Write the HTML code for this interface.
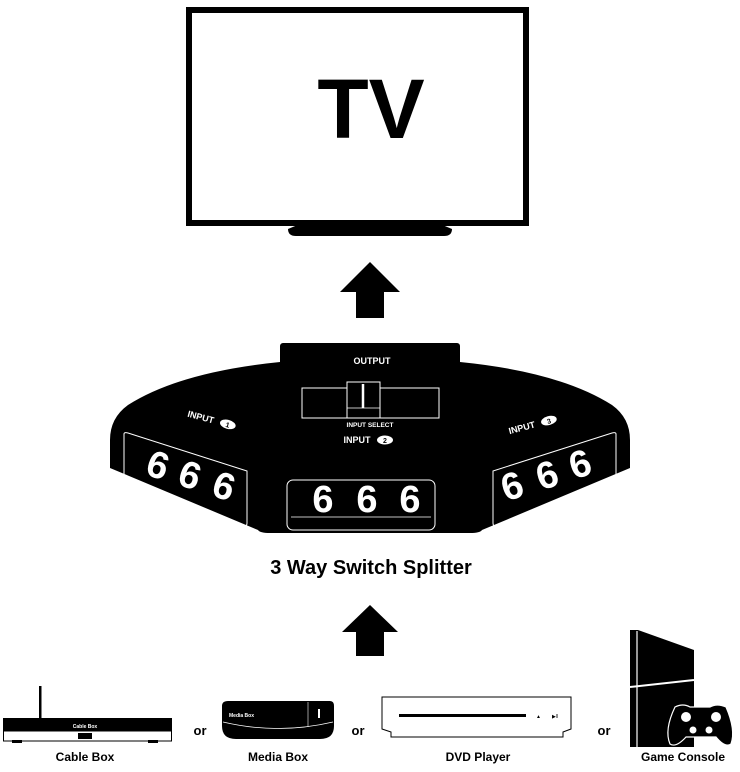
<!DOCTYPE html>
<html><head><style>body{margin:0;background:#fff}svg{display:block}</style></head><body>
<svg width="740" height="772" viewBox="0 0 740 772" xmlns="http://www.w3.org/2000/svg" font-family="Liberation Sans, sans-serif">
<!-- TV -->
<rect x="189" y="10" width="337" height="213" fill="#fff" stroke="#000" stroke-width="6"/>
<path d="M300 224 H440 L452 229 Q452 236 444 236 H296 Q288 236 288 229 Z" fill="#000"/>
<text x="371" y="138" font-size="84" font-weight="bold" text-anchor="middle">TV</text>
<!-- arrow 1 -->
<path d="M370 262 L400 292 L384 292 L384 318 L356 318 L356 292 L340 292 Z" fill="#000"/>
<!-- splitter -->
<rect x="280" y="343" width="180" height="30" rx="3" fill="#000"/>
<path d="M280 362 L460 362 Q560 372 612 405 Q630 418 630 440 L630 468 L482 530 Q480 533 470 533 L270 533 Q260 533 258 530 L110 468 L110 440 Q110 418 128 405 Q180 372 280 362 Z" fill="#000"/>
<text x="372" y="364" font-size="9" font-weight="bold" fill="#fff" text-anchor="middle">OUTPUT</text>
<rect x="302" y="388" width="137" height="30" fill="none" stroke="#fff" stroke-width="1"/>
<rect x="347" y="382" width="33" height="36" fill="#000" stroke="#fff" stroke-width="1"/>
<line x1="363" y1="384" x2="363" y2="408" stroke="#fff" stroke-width="2.5"/>
<line x1="347" y1="408" x2="380" y2="408" stroke="#fff" stroke-width="0.8"/>
<text x="370" y="427" font-size="6.5" font-weight="bold" fill="#fff" text-anchor="middle">INPUT SELECT</text>
<text x="357" y="443" font-size="9" font-weight="bold" fill="#fff" text-anchor="middle">INPUT</text>
<ellipse cx="385" cy="440" rx="8" ry="4.5" fill="#fff"/><text x="385" y="443" font-size="7" font-weight="bold" text-anchor="middle">2</text>
<g transform="rotate(15 200 420)"><text x="200" y="420" font-size="9" font-weight="bold" fill="#fff" text-anchor="middle">INPUT</text><ellipse cx="228" cy="417" rx="8" ry="4.5" fill="#fff"/><text x="228" y="420" font-size="7" font-weight="bold" text-anchor="middle">1</text></g>
<g transform="rotate(-15 525 428)"><text x="522" y="430" font-size="9" font-weight="bold" fill="#fff" text-anchor="middle">INPUT</text><ellipse cx="550" cy="427" rx="8" ry="4.5" fill="#fff"/><text x="550" y="430" font-size="7" font-weight="bold" text-anchor="middle">3</text></g>
<!-- panels -->
<path d="M124 434 Q124 432 128 433 L247 471 L247 523 Q247 527 243 526 L128 480 Q124 478 124 474 Z" fill="none" stroke="#fff" stroke-width="1"/>
<path d="M616 434 Q616 432 612 433 L493 471 L493 523 Q493 527 497 526 L612 480 Q616 478 616 474 Z" fill="none" stroke="#fff" stroke-width="1"/>
<rect x="287" y="480" width="148" height="50" rx="6" fill="none" stroke="#fff" stroke-width="1"/>
<line x1="291" y1="517" x2="431" y2="517" stroke="#fff" stroke-width="0.8"/>
<g font-size="38" font-weight="bold" fill="#fff" text-anchor="middle">
<text x="323" y="512">6</text><text x="367" y="512">6</text><text x="410" y="512">6</text>
<text x="158" y="478" transform="rotate(18 158 465)">6</text><text x="190" y="488" transform="rotate(18 190 475)">6</text><text x="224" y="499" transform="rotate(18 224 486)">6</text>
<text x="512" y="499" transform="rotate(-18 512 486)">6</text><text x="547" y="488" transform="rotate(-18 547 475)">6</text><text x="580" y="477" transform="rotate(-18 580 464)">6</text>
</g>
<text x="371" y="574" font-size="20" font-weight="bold" text-anchor="middle">3 Way Switch Splitter</text>
<!-- arrow 2 -->
<path d="M370 605 L398 632 L384 632 L384 656 L356 656 L356 632 L342 632 Z" fill="#000"/>
<!-- cable box -->
<rect x="39" y="686" width="2.5" height="34" fill="#000"/>
<rect x="3" y="718" width="169" height="13" fill="#000"/>
<rect x="3.5" y="731" width="168" height="10" fill="#fff" stroke="#000"/>
<rect x="78" y="733" width="14" height="6" fill="#000"/>
<rect x="12" y="740" width="10" height="3" fill="#000"/><rect x="148" y="740" width="10" height="3" fill="#000"/>
<text x="85" y="728" font-size="5" font-weight="bold" fill="#fff" text-anchor="middle">Cable Box</text>
<text x="85" y="761" font-size="12" font-weight="bold" text-anchor="middle">Cable Box</text>
<text x="200" y="735" font-size="13" font-weight="bold" text-anchor="middle">or</text>
<!-- media box -->
<path d="M228 701 H330 Q334 701 334 706 V726 Q334 739 320 739 H236 Q222 739 222 726 V706 Q222 701 228 701 Z" fill="#000"/>
<path d="M223 722 Q278 735 333 722" fill="none" stroke="#fff" stroke-width="0.8"/>
<line x1="308" y1="702" x2="308" y2="727" stroke="#fff" stroke-width="0.6"/>
<rect x="318" y="709" width="2" height="9" fill="#fff"/>
<text x="229" y="717" font-size="5" font-weight="bold" fill="#fff">Media Box</text>
<text x="278" y="761" font-size="12" font-weight="bold" text-anchor="middle">Media Box</text>
<text x="358" y="735" font-size="13" font-weight="bold" text-anchor="middle">or</text>
<!-- dvd -->
<path d="M382 697 H571 V729 L563 732 V737 H391 V732 L382 729 Z" fill="#fff" stroke="#000" stroke-width="1"/>
<rect x="399" y="714" width="127" height="3" fill="#000"/>
<text x="536" y="718" font-size="5">▲</text><text x="552" y="718" font-size="5">▶ll</text>
<text x="478" y="761" font-size="12" font-weight="bold" text-anchor="middle">DVD Player</text>
<text x="604" y="735" font-size="13" font-weight="bold" text-anchor="middle">or</text>
<!-- console -->
<path d="M630 630 H638 L694 650 V747 H630 Z" fill="#000"/>
<line x1="637" y1="631" x2="637" y2="747" stroke="#fff" stroke-width="1.2"/>
<path d="M630 687 L694 680" stroke="#fff" stroke-width="2"/>
<path d="M675 707 Q683 703 690 707 H710 Q717 703 726 707 Q736 730 731 744 Q725 748 716 737 H686 Q676 748 670 744 Q664 730 675 707 Z" fill="#000" stroke="#fff" stroke-width="1.2"/>
<circle cx="686" cy="717" r="5" fill="#fff"/><circle cx="716" cy="717" r="5" fill="#fff"/>
<circle cx="693" cy="730" r="3.5" fill="#fff"/><circle cx="709" cy="730" r="3.5" fill="#fff"/>
<text x="683" y="761" font-size="12" font-weight="bold" text-anchor="middle">Game Console</text>
</svg>
</body></html>
